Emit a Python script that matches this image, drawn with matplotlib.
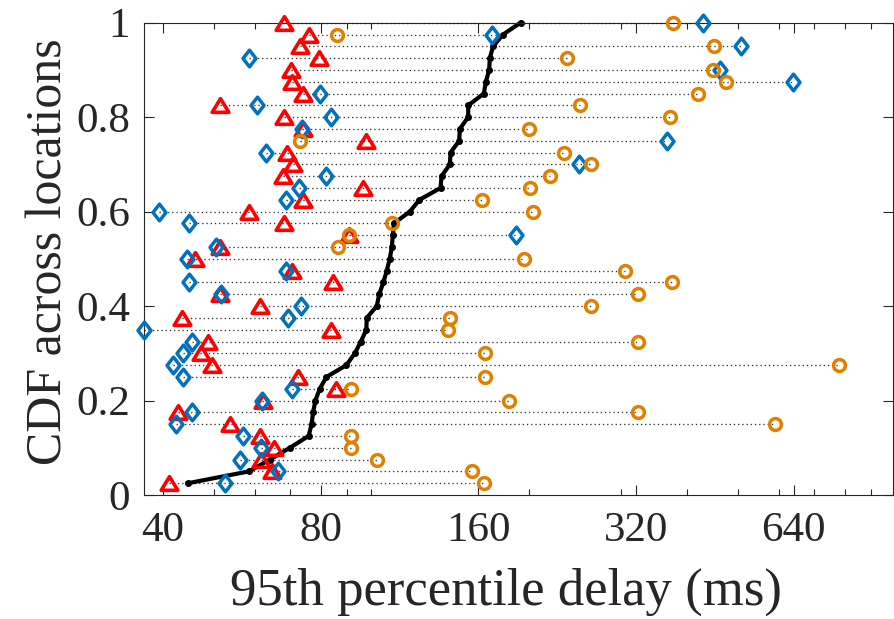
import matplotlib
matplotlib.use('Agg')
import matplotlib.pyplot as plt
import numpy as np
from matplotlib.path import Path
from matplotlib.ticker import FixedLocator, NullFormatter

# ---------------- data ----------------
cdf_levels = [k / 40 for k in range(1, 41)]

# black CDF curve (ms)
cdf_delay = [44.7, 58.4, 64.0, 69.9, 75.9, 76.9, 77.4, 78.2, 79.7, 82.1,
             89.6, 93.0, 95.5, 97.8, 98.0, 102.4, 103.5, 105.4, 107.0, 108.4,
             109.4, 109.9, 110.4, 118.4, 123.5, 135.5, 136.1, 141.2, 141.6, 147.1,
             147.5, 153.0, 153.1, 163.9, 165.4, 167.8, 168.3, 170.7, 178.4, 192.6]

# red triangles (ms)
red_delay = [41.1, 64.6, 61.5, 65.3, 61.4, 53.7, 42.8, 62.0, 85.5, 72.5,
             49.7, 47.2, 48.8, 83.9, 43.5, 61.2, 51.5, 84.3, 70.4, 46.0,
             51.5, 90.7, 68.1, 58.4, 74.1, 96.2, 67.8, 71.0, 68.9, 97.6,
             74.1, 68.1, 51.4, 74.1, 70.7, 70.2, 79.4, 73.0, 76.0, 68.1]

# blue diamonds (ms)
blue_delay = [52.6, 66.3, 56.2, 61.7, 56.9, 42.3, 45.5, 61.9, 70.6, 43.7,
              41.8, 43.7, 45.5, 36.8, 69.4, 73.3, 51.6, 44.8, 68.6, 44.4,
              50.6, 188.4, 44.8, 39.3, 68.6, 72.8, 82.1, 248.9, 62.9, 366.8,
              73.8, 83.9, 60.4, 79.8, 638.3, 462.6, 58.4, 507.4, 169.8, 428.6]

# orange circles (ms)
orange_delay = [164.1, 155.7, 102.3, 91.3, 91.3, 589.0, 323.0, 183.3, 91.3, 164.9,
                781.5, 164.9, 323.0, 139.9, 141.2, 262.4, 322.1, 374.9, 304.7, 195.4,
                86.4, 90.7, 109.5, 203.5, 162.3, 200.6, 219.1, 262.0, 233.0, 73.0,
                200.0, 372.3, 250.0, 420.5, 474.8, 448.0, 235.8, 451.2, 85.8, 376.6]

x_ticks = [40, 80, 160, 320, 640]
x_tick_labels = ['40', '80', '160', '320', '640']
x_minor_ticks = [50, 60, 70, 90, 100, 200, 300, 400, 500, 600, 700, 800, 900]
y_ticks = [0, 0.2, 0.4, 0.6, 0.8, 1]
y_tick_labels = ['0', '0.2', '0.4', '0.6', '0.8', '1']

x_label = '95th percentile delay (ms)'
y_label = 'CDF across locations'

# ---------------- style ----------------
plt.rcParams['font.family'] = ['Liberation Serif', 'DejaVu Serif']
TXT = '#262626'
RED = '#FF0000'
BLUE = '#0072BD'
ORANGE = '#E08000'

W, H = 895, 619
fig = plt.figure(figsize=(W / 100, H / 100), dpi=100)
ax_l, ax_r, ax_t, ax_b = 143.9, 893.5, 22.7, 495.0
ax = fig.add_axes([ax_l / W, (H - ax_b) / H, (ax_r - ax_l) / W, (ax_b - ax_t) / H])

ax.set_xscale('log', base=2)
ax.set_xlim(36.8, 992)
ax.set_ylim(0, 1)

# dotted connectors for each location
for y, a, b, c, d in zip(cdf_levels, cdf_delay, red_delay, blue_delay, orange_delay):
    lo = min(a, b, c, d)
    hi = max(a, b, c, d)
    ax.plot([lo, hi], [y, y], color='#333333', lw=0.95, linestyle=(0, (1, 2.2)),
            zorder=1, clip_on=False)

# CDF curve
ax.plot(cdf_delay, cdf_levels, color='black', lw=3.0, marker='.', ms=8,
        zorder=2, clip_on=False)

tri = Path([(0, 0.82), (-1, -0.82), (1, -0.82), (0, 0.82)],
           [Path.MOVETO, Path.LINETO, Path.LINETO, Path.CLOSEPOLY])
dia = Path([(0, 1), (0.78, 0), (0, -1), (-0.78, 0), (0, 1)],
           [Path.MOVETO, Path.LINETO, Path.LINETO, Path.LINETO, Path.CLOSEPOLY])

ax.plot(red_delay, cdf_levels, linestyle='none', marker=tri, ms=12,
        mfc='none', mec=RED, mew=2.6, zorder=3, clip_on=False)
ax.plot(blue_delay, cdf_levels, linestyle='none', marker=dia, ms=12,
        mfc='none', mec=BLUE, mew=2.5, zorder=4, clip_on=False)
ax.plot(orange_delay, cdf_levels, linestyle='none', marker='o', ms=8.5,
        mfc='none', mec=ORANGE, mew=2.5, zorder=5, clip_on=False)

ax.xaxis.set_major_locator(FixedLocator(x_ticks))
ax.set_xticklabels(x_tick_labels)
ax.xaxis.set_minor_locator(FixedLocator(x_minor_ticks))
ax.xaxis.set_minor_formatter(NullFormatter())
ax.set_yticks(y_ticks)
ax.set_yticklabels(y_tick_labels)

ax.tick_params(which='both', direction='in', top=True, right=True,
               color=TXT, width=0.8, labelcolor=TXT, labelsize=31)
ax.tick_params(which='major', length=7)
ax.tick_params(which='minor', length=4)
ax.tick_params(axis='x', pad=12)
ax.tick_params(axis='y', pad=10)
for s in ax.spines.values():
    s.set_color(TXT)
    s.set_linewidth(0.8)

fig.text(506 / W, (H - 605) / H, x_label, ha='center', va='baseline',
         fontsize=38, color=TXT)
fig.text(62 / W, (H - 252) / H, y_label, ha='center', va='baseline',
         rotation=90, rotation_mode='anchor', fontsize=36, color=TXT)

fig.savefig('out.png', dpi=100)
